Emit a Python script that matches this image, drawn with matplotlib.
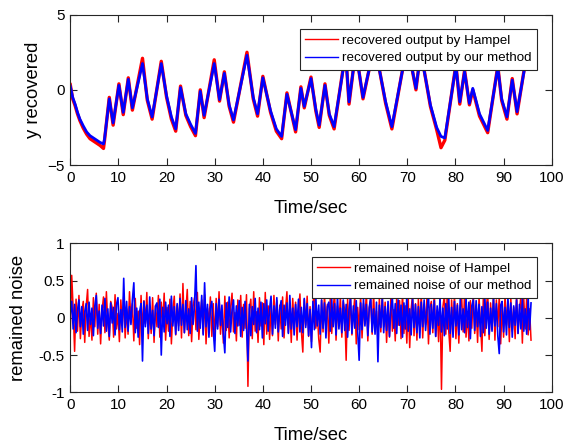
import numpy as np
import matplotlib
matplotlib.use('Agg')
import matplotlib.pyplot as plt

plt.rcParams['font.family'] = ['Liberation Sans', 'DejaVu Sans']

# recovered output: corner points of the two traces (time in sec)
t_rec = [0, 0.5, 1, 1.5, 2, 2.7, 3.4, 4.1, 4.8, 5.5, 6.2, 6.9, 7.1, 8.1, 8.9,
         10.1, 11, 12.05, 12.9, 15, 16, 17, 18.9, 20, 21, 21.9, 22.9, 24, 25,
         26, 27, 27.8, 29.9, 31, 32, 33, 33.9, 36.7, 38, 38.9, 40, 41.6, 42.8,
         43.9, 45, 46.8, 47.9, 48.6, 50, 51, 51.7, 52.9, 53.8, 54.8, 56.7, 57.2,
         57.9, 59.3, 60.8, 63.2, 65.5, 66.8, 70, 71.8, 72.8, 74.8, 76.1, 77,
         77.8, 80.1, 80.9, 81.9, 82.9, 83.6, 85, 86.7, 88.8, 89.6, 90.7, 91.8,
         92.8, 94.4, 95.6]
y_ours = [0.25, -0.5, -0.95, -1.5, -1.95, -2.4, -2.8, -3.05, -3.2, -3.35, -3.5,
          -3.6, -3.3, -0.6, -2.2, 0.3, -1.5, 0.7, -1.2, 1.75, -0.6, -1.8, 1.75,
          -0.4, -1.8, -2.6, 0.15, -1.6, -2.3, -2.9, -0.1, -1.7, 1.75, -0.65,
          1.1, -1.0, -2.0, 2.3, -0.5, -1.6, 0.8, -1.4, -2.6, -3.1, -0.3, -2.65,
          0.1, -1.1, 0.75, -1.3, -2.35, 0.3, -1.6, -2.45, 1.4, 2.4, -0.8, 2.6,
          -0.5, 3.0, -0.8, -2.45, 3.0, 0.1, 2.5, -1.0, -2.5, -3.1, -3.2, 1.6,
          -0.8, 1.2, -0.9, 0.1, -1.6, -2.7, 1.5, -0.6, -1.8, 0.65, -1.45, 1.5,
          2.2]
y_hampel = [0.35, -0.6, -1.05, -1.6, -2.05, -2.55, -2.95, -3.25, -3.4, -3.55,
            -3.7, -3.9, -3.4, -0.5, -2.35, 0.4, -1.65, 0.8, -1.35, 2.1, -0.7,
            -1.95, 1.9, -0.5, -1.95, -2.75, 0.25, -1.7, -2.45, -3.05, 0.0, -1.85,
            2.0, -0.75, 1.2, -1.1, -2.15, 2.5, -0.6, -1.75, 0.9, -1.5, -2.75,
            -3.25, -0.2, -2.8, 0.2, -1.2, 0.85, -1.4, -2.5, 0.4, -1.7, -2.6, 1.5,
            2.5, -0.95, 2.7, -0.6, 3.1, -0.9, -2.6, 3.1, 0.0, 2.6, -1.1, -2.65,
            -3.85, -3.35, 1.7, -0.95, 1.3, -1.0, 0.0, -1.75, -2.85, 1.6, -0.7,
            -1.95, 0.75, -1.6, 1.6, 2.3]

# remained noise, one sample every 0.3 s (values in 1/100)
dt_noise = 0.3
noise_hampel = [
    -20, 57, 12, -45, 25, -18, 30, -28, 8, 22, -33, 15, 38, -25, 5, -30, 27, -12, 33, -22,
    18, -35, 10, 28, -20, 35, -8, -30, 22, 14, -26, 31, -15, 6, -32, 24, -10, 29, -27, 12,
    -22, 35, -6, 19, -31, 26, -14, 9, -36, 30, -19, 23, -8, 34, -28, 11, -21, 27, -33, 16,
    -12, 30, -26, 21, -9, 33, -30, 14, -18, 25, -35, 8, 29, -23, 17, -11, 32, -27, 46, -20,
    10, 38, -24, 22, -32, 15, 27, -16, 34, -29, 6, 24, -21, 31, -35, 13, -8, 28, -25, 19,
    -30, 26, -12, 35, -22, 9, -34, 29, -17, 21, -27, 14, 33, -19, 7, -31, 24, -10, 30, -26,
    18, -14, 31, -92, 12, 25, -28, 35, -18, 8, -33, 27, -11, 20, -36, 34, -22, 16, -29, 13,
    -24, 30, -9, 23, -31, 17, -15, 28, -27, 11, 35, -20, 14, -33, 26, -12, 21, -30, 9, 32,
    -18, -46, 25, -10, 29, -25, 15, -32, 20, 33, -14, 8, -28, -46, 24, -19, 31, -9, 18, -34,
    27, -21, 12, 34, -30, 16, -11, 29, -26, 22, 10, -57, 25, -17, 31, -23, 7, 28, -35, 14,
    -16, 30, -27, 19, -8, 36, -31, 13, 24, -22, 33, -15, 9, -29, 27, -19, 32, -12, 21, -33,
    15, -26, 34, -18, 11, -31, 28, -10, 23, -28, 35, -21, 16, -34, 26, -40, 12, 31, -24, 19,
    -30, 25, -13, 33, -27, 18, -9, 29, -35, 14, 22, -20, 36, -25, 10, -32, 27, -96, 15, 30,
    -22, 34, -17, -45, 24, -11, 31, -28, 19, -34, 13, 27, -19, 33, -26, 8, -31, 23, -14, 35,
    -21, 17, -33, 28, -9, -45, 30, -24, 12, 35, -29, 20, -16, 33, -30, 24, -12, 29, -35, 18,
    -26, 31, -10, 22, -32, 27, -18, 14, -28, 33, -21, 9, 30, -34, 25, -15, 29, -23, 12, -30]
noise_ours = [
    5, 22, -15, 18, -20, 10, 24, -12, 15, -22, 8, 19, -17, 21, -9, 13, -24, 16, 30, -14,
    9, -21, 17, -11, 26, -18, 12, -25, 20, -7, 14, -23, 18, 27, -16, 11, -19, 53, -13, 22,
    -18, 15, -9, 24, 47, -20, 13, -26, 8, 19, -58, 22, -12, 17, -21, 28, -15, 10, -24, 16,
    20, -13, 25, -50, 14, -19, 21, -8, 17, -25, 29, -11, 15, -22, 19, -17, 26, -10, 18, -20,
    23, -16, 12, -21, 27, -9, 16, 70, -18, 21, -14, 30, -23, 47, -12, 18, -26, 14, 22, -17,
    -45, 19, -15, 25, -10, 17, -22, -47, 20, -13, 28, -19, 11, 24, -21, 16, -11, 23, -25, 14,
    -17, 22, -12, -58, 18, -24, 15, -9, 26, -20, 13, -16, 21, -27, 19, -8, 24, -18, 12, 29,
    -22, 16, -14, 27, -19, 11, 23, -25, 17, -10, 20, -21, 30, -15, 13, -23, 18, -12, 25, -19,
    14, -20, 26, -13, 19, -24, 11, -40, 22, -16, 28, -11, 17, -22, 24, -14, 20, -27, 15, 21,
    -18, 25, -12, 19, -23, 29, -15, 13, -20, 24, -17, 18, -26, 11, 27, -21, 16, -14, 23, -19,
    -57, 20, -16, 25, -11, 18, -24, 14, 28, -19, 12, -22, 21, -59, 17, -13, 26, -20, 15, -17,
    22, -25, 13, 27, -14, 19, -21, 24, -10, 17, -26, 20, -15, 29, -18, 12, -23, 25, -13, 18,
    -20, 15, -27, 21, -12, 24, -17, 11, 30, -22, 18, -14, 23, -25, 16, -10, 26, -19, 13, -24,
    19, -15, 28, -21, 14, -26, 22, -11, 17, -23, 25, -16, 12, -20, 27, -13, 21, -28, 16, 24,
    -17, 23, -12, 18, -25, 15, -20, 29, -14, 21, -22, 13, -18, 26, -11, 19, -24, -48, 17, 22,
    -19, 14, -23, 27, -13, 20, -26, 16, -10, 24, -21, 18, -15, 25, -18, 12, -22, 28, -16, 20]

xticks = np.arange(0, 101, 10)
axcol = '#262626'

nh = np.array(noise_hampel) / 100.0
no = np.array(noise_ours) / 100.0
t_noise = np.arange(len(nh)) * dt_noise

fig = plt.figure(figsize=(5.77, 4.45), dpi=100)
ax1 = fig.add_axes([0.1218, 0.6292, 0.8344, 0.3378])
ax2 = fig.add_axes([0.1218, 0.1184, 0.8344, 0.3349])

ax1.plot(t_rec, y_hampel, color='red', lw=2.4, label='recovered output by Hampel')
ax1.plot(t_rec, y_ours, color='blue', lw=2.0, label='recovered output by our method')
ax1.set_xlim(0, 100)
ax1.set_ylim(-5, 5)
ax1.set_yticks([-5, 0, 5])
ax1.set_ylabel('y recovered', fontsize=13.3, labelpad=4)

ax2.plot(t_noise, nh, color='red', lw=1.1, label='remained noise of Hampel')
ax2.plot(t_noise, no, color='blue', lw=1.2, label='remained noise of our method')
ax2.set_xlim(0, 100)
ax2.set_ylim(-1, 1)
ax2.set_yticks([-1, -0.5, 0, 0.5, 1])
ax2.set_yticklabels(['-1', '-0.5', '0', '0.5', '1'])
ax2.set_ylabel('remained noise', fontsize=13.3, labelpad=8)

for ax, anchor in ((ax1, (0.9695, 0.905)), (ax2, (0.9695, 0.908))):
    ax.set_xticks(xticks)
    ax.set_xlabel('Time/sec', fontsize=13.3, labelpad=11)
    ax.tick_params(direction='in', top=True, right=True, length=5, width=0.8,
                   labelsize=11, pad=4, colors=axcol, labelcolor='black')
    for s in ax.spines.values():
        s.set_color(axcol)
        s.set_linewidth(0.8)
    leg = ax.legend(loc='upper right', bbox_to_anchor=anchor, fontsize=9.6,
                    fancybox=False, framealpha=1, edgecolor=axcol,
                    handlelength=2.5, handletextpad=0.3, borderpad=0.4,
                    labelspacing=0.4, borderaxespad=0)
    leg.get_frame().set_linewidth(0.8)
    for h in leg.get_lines():
        h.set_linewidth(1.0)

fig.savefig('out.png', dpi=100)
